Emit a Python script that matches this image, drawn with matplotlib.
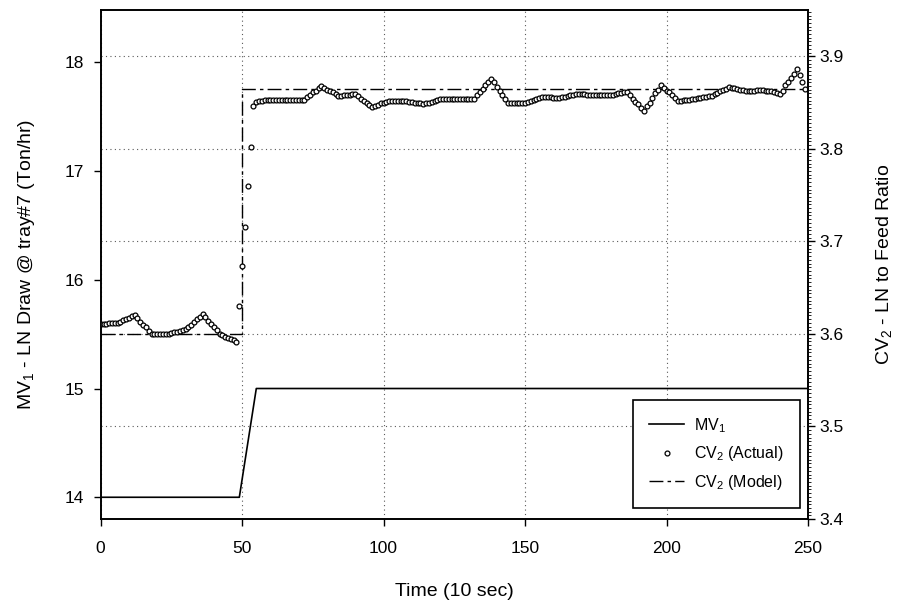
import numpy as np
import matplotlib
matplotlib.use("Agg")
import matplotlib.pyplot as plt
from matplotlib.ticker import MultipleLocator

plt.rcParams['font.family'] = ['Liberation Sans', 'DejaVu Sans']
plt.rcParams['mathtext.default'] = 'regular'

# ---------------- DATA ----------------
# MV1: LN draw at tray 7 (Ton/hr), step move at t ~ 50
mv_time = [0, 49, 55, 250]
mv_value = [14.0, 14.0, 15.0, 15.0]

# CV2 model response (step)
model_time = [0, 50, 50, 250]
model_value = [3.600, 3.600, 3.865, 3.865]

# CV2 measured, one sample per time step
cv_actual = [
    3.611, 3.611, 3.611, 3.612, 3.612, 3.612, 3.612, 3.613, 3.615, 3.616,
    3.617, 3.619, 3.620, 3.617, 3.613, 3.610, 3.607, 3.603, 3.600, 3.600,
    3.600, 3.600, 3.600, 3.600, 3.600, 3.601, 3.602, 3.602, 3.603, 3.604,
    3.605, 3.608, 3.610, 3.613, 3.616, 3.618, 3.621, 3.618, 3.614, 3.611,
    3.607, 3.604, 3.600, 3.599, 3.597, 3.596, 3.594, 3.593, 3.591, 3.630,
    3.673, 3.716, 3.760, 3.802, 3.846, 3.851, 3.852, 3.852, 3.853, 3.853,
    3.853, 3.853, 3.853, 3.853, 3.853, 3.853, 3.853, 3.853, 3.853, 3.853,
    3.853, 3.853, 3.853, 3.856, 3.858, 3.861, 3.863, 3.866, 3.868, 3.866,
    3.864, 3.863, 3.861, 3.859, 3.857, 3.857, 3.858, 3.858, 3.858, 3.859,
    3.859, 3.857, 3.854, 3.852, 3.850, 3.847, 3.845, 3.846, 3.847, 3.849,
    3.850, 3.851, 3.852, 3.852, 3.852, 3.852, 3.852, 3.852, 3.852, 3.851,
    3.851, 3.850, 3.849, 3.849, 3.848, 3.849, 3.850, 3.851, 3.852, 3.853,
    3.854, 3.854, 3.854, 3.854, 3.854, 3.854, 3.854, 3.854, 3.854, 3.854,
    3.854, 3.854, 3.854, 3.858, 3.861, 3.865, 3.869, 3.872, 3.876, 3.872,
    3.867, 3.863, 3.858, 3.854, 3.849, 3.849, 3.849, 3.850, 3.850, 3.850,
    3.850, 3.851, 3.852, 3.853, 3.854, 3.855, 3.856, 3.856, 3.856, 3.856,
    3.855, 3.855, 3.855, 3.856, 3.856, 3.857, 3.858, 3.858, 3.859, 3.859,
    3.859, 3.859, 3.858, 3.858, 3.858, 3.858, 3.858, 3.858, 3.858, 3.858,
    3.858, 3.858, 3.859, 3.860, 3.860, 3.861, 3.861, 3.858, 3.854, 3.851,
    3.848, 3.844, 3.841, 3.846, 3.850, 3.855, 3.860, 3.864, 3.869, 3.866,
    3.863, 3.861, 3.858, 3.855, 3.852, 3.852, 3.853, 3.853, 3.853, 3.854,
    3.854, 3.855, 3.855, 3.856, 3.856, 3.857, 3.857, 3.859, 3.860, 3.862,
    3.864, 3.865, 3.867, 3.866, 3.866, 3.865, 3.864, 3.864, 3.863, 3.863,
    3.863, 3.863, 3.864, 3.864, 3.864, 3.863, 3.862, 3.862, 3.861, 3.860,
    3.859, 3.863, 3.869, 3.872, 3.877, 3.881, 3.886, 3.880, 3.872, 3.865,
]
cv_time = np.arange(len(cv_actual))

x_ticks = [0, 50, 100, 150, 200, 250]
left_ticks = [14, 15, 16, 17, 18]
right_ticks = [3.4, 3.5, 3.6, 3.7, 3.8, 3.9]

# ---------------- PLOT ----------------
fig = plt.figure(figsize=(9.03, 6.04), dpi=100)
ax = fig.add_axes([0.1115, 0.1407, 0.7833, 0.8427])
ax2 = ax.twinx()

grid_style = dict(color='0.35', linestyle=(0, (1, 3)), linewidth=0.8)

l_mv, = ax.plot(mv_time, mv_value, color='black', linewidth=1.2, label='MV$_1$')
ax.set_xlim(0, 250)
ax.set_ylim(13.8, 18.48)
ax.set_xticks(x_ticks)
ax.set_yticks(left_ticks)
ax.xaxis.grid(True, **grid_style)
ax.set_axisbelow(True)

ax2.xaxis.grid(False)
ax2.yaxis.grid(True, **grid_style)
ax2.set_axisbelow(True)
l_model, = ax2.plot(model_time, model_value, color='black', linewidth=1.0,
                    dashes=(10, 3, 2.5, 3), label='CV$_2$ (Model)')
l_act, = ax2.plot(cv_time, cv_actual, linestyle='none', marker='o',
                  markersize=3.5, markerfacecolor='white',
                  markeredgecolor='black', markeredgewidth=0.9,
                  label='CV$_2$ (Actual)')
ax2.set_ylim(3.4, 3.95)
ax2.set_yticks(right_ticks)
ax2.yaxis.set_minor_locator(MultipleLocator(0.004))

for a in (ax, ax2):
    for sp in a.spines.values():
        sp.set_linewidth(1.2)
ax.tick_params(axis='x', which='major', direction='out', length=5,
               width=1.0, labelsize=12.5, pad=11)
ax.tick_params(axis='y', which='major', direction='out', length=5,
               width=1.0, labelsize=12.5, pad=7)
ax2.tick_params(axis='y', which='major', direction='out', length=5,
                width=1.0, labelsize=12.5, pad=3)
ax2.tick_params(axis='y', which='minor', direction='out', length=1.8, width=0.6)

ax.set_xlabel('Time (10 sec)', fontsize=14, labelpad=19)
ax.set_ylabel('MV$_1$ - LN Draw @ tray#7 (Ton/hr)', fontsize=14, labelpad=20)
ax2.set_ylabel('CV$_2$ - LN to Feed Ratio', fontsize=14, labelpad=22)

leg = ax2.legend([l_mv, l_act, l_model],
                 ['MV$_1$', 'CV$_2$ (Actual)', 'CV$_2$ (Model)'],
                 loc='lower right', bbox_to_anchor=(0.988, 0.022),
                 borderaxespad=0, fontsize=11.5, numpoints=1,
                 handlelength=2.2, handletextpad=0.6, fancybox=False,
                 framealpha=1, edgecolor='black', borderpad=1.0,
                 labelspacing=0.6)
leg.get_frame().set_linewidth(1.2)

fig.savefig('out.png', dpi=100)
